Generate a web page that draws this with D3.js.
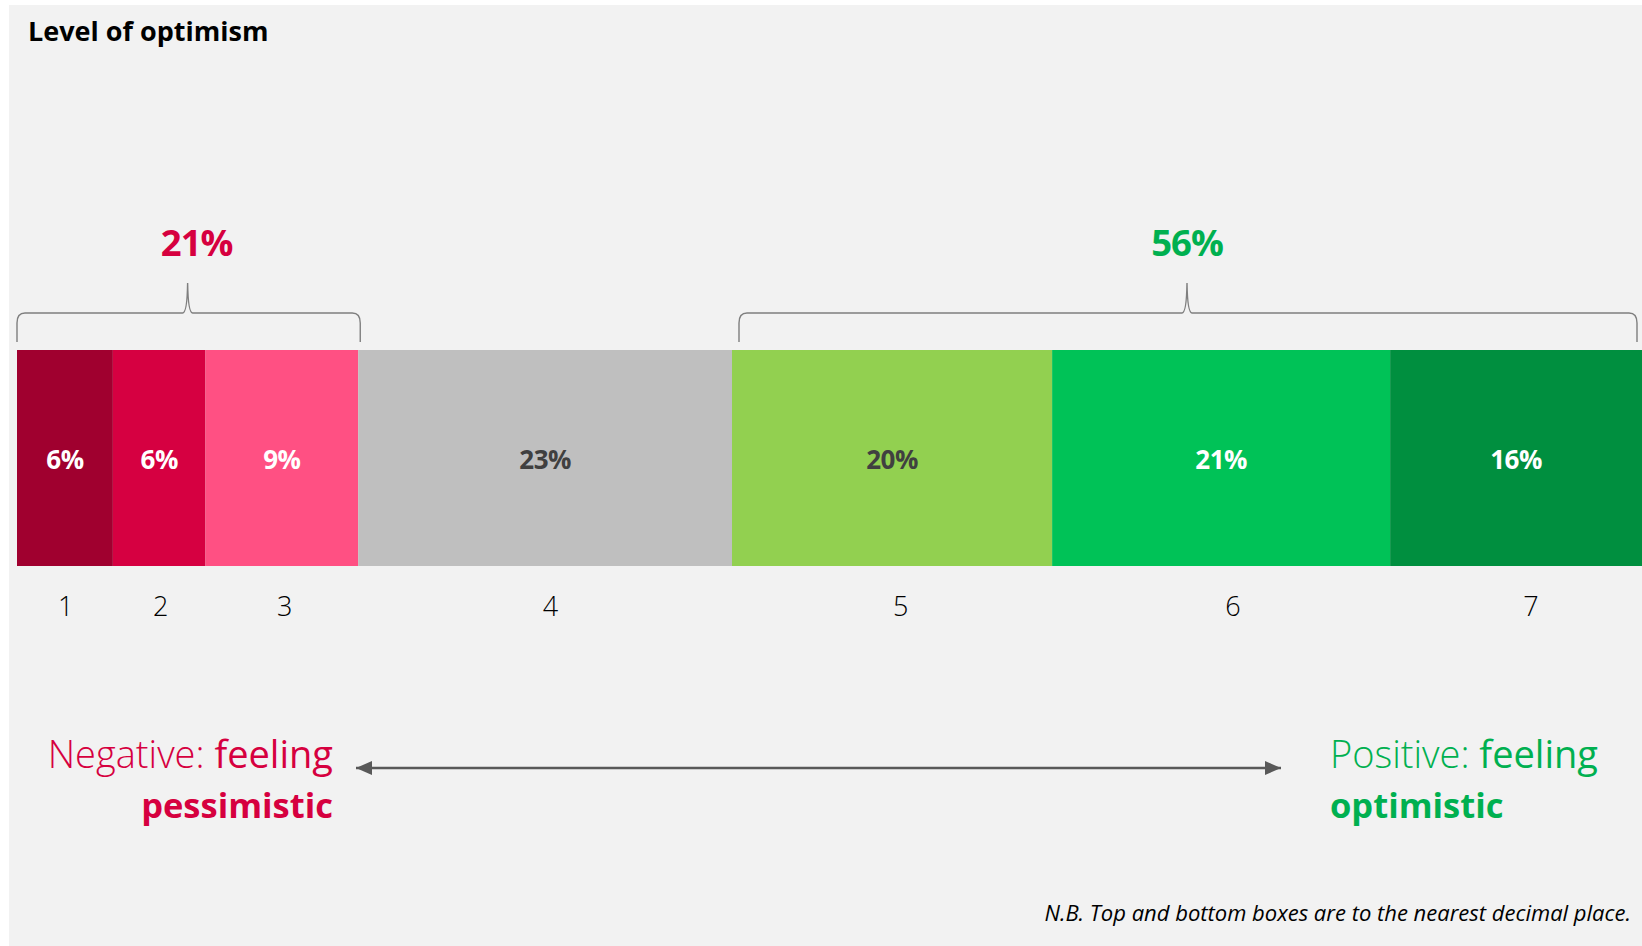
<!DOCTYPE html>
<html>
<head>
<meta charset="utf-8">
<script src="https://cdn.jsdelivr.net/npm/d3@7"></script>
<style>
  html, body { margin: 0; padding: 0; background: #ffffff; }
  svg { display: block; }
  text { font-family: "Open Sans", Lato, sans-serif; }
</style>
</head>
<body>
<div id="chart"></div>
<script>
// ---- data ----
const title = "Level of optimism";
const categories = ["1", "2", "3", "4", "5", "6", "7"];
const values = [5.9, 5.7, 9.4, 23.0, 19.7, 20.8, 15.5];
const segmentColors = ["#A0002F", "#D60041", "#FF5083", "#BFBFBF", "#92D050", "#00C257", "#008F3F"];
const labelColors = ["#FFFFFF", "#FFFFFF", "#FFFFFF", "#404040", "#404040", "#FFFFFF", "#FFFFFF"];
const groupRanges = [[0, 2], [4, 6]];        // category index ranges
const groupTotals = ["21%", "56%"];
const groupColors = ["#D6003F", "#00B050"];
const negativeText = ["Negative:", " feeling", "pessimistic"];
const positiveText = ["Positive:", " feeling", "optimistic"];
const footnote = "N.B. Top and bottom boxes are to the nearest decimal place.";

// ---- layout ----
const W = 1642, H = 946;
const svg = d3.select("#chart").append("svg").attr("width", W).attr("height", H);

svg.append("rect").attr("x", 9).attr("y", 5).attr("width", W - 9).attr("height", H - 5).attr("fill", "#F2F2F2");

svg.append("text").attr("x", 28).attr("y", 41)
  .attr("font-size", 27).attr("font-weight", 700).attr("fill", "#000")
  .text(title);

// stacked positions
let acc = 0;
const segs = values.map((v, i) => { const s = { i, cat: categories[i], v, x0: acc, x1: acc + v }; acc += v; return s; });

const x = d3.scaleLinear().domain([0, 100]).range([17, 1642]);
const xLab = d3.scaleLinear().domain([0, 100]).range([17.2, 1658]);
const barY = 350, barH = 216;

svg.append("g").selectAll("rect").data(segs).join("rect")
  .attr("x", d => x(d.x0)).attr("y", barY)
  .attr("width", d => x(d.x1) - x(d.x0)).attr("height", barH)
  .attr("fill", d => segmentColors[d.i]);

svg.append("g").selectAll("text").data(segs).join("text")
  .attr("x", d => x((d.x0 + d.x1) / 2)).attr("y", 469)
  .attr("text-anchor", "middle").attr("font-size", 26).attr("font-weight", 700)
  .attr("letter-spacing", -0.5)
  .attr("fill", d => labelColors[d.i])
  .text(d => Math.round(d.v) + "%");

svg.append("g").selectAll("text").data(segs).join("text")
  .attr("x", d => xLab((d.x0 + d.x1) / 2)).attr("y", 616)
  .attr("text-anchor", "middle").attr("font-size", 27).attr("font-weight", 300)
  .attr("fill", "#000")
  .text(d => d.cat);

// brackets
const brTop = 283, brLine = 313, brBot = 342;
groupRanges.forEach((r, gi) => {
  const xa = x(segs[r[0]].x0) + (gi === 0 ? 0 : 7);
  const xb = x(segs[r[1]].x1) - (gi === 0 ? -2 : 5);
  const xm = (x(segs[r[0]].x0) + x(segs[r[1]].x1)) / 2;
  const p = d3.path();
  p.moveTo(xa, brBot);
  p.lineTo(xa, brLine + 10);
  p.quadraticCurveTo(xa, brLine, xa + 8, brLine);
  p.lineTo(xm - 5, brLine);
  p.quadraticCurveTo(xm - 0.5, brLine, xm, brTop);
  p.quadraticCurveTo(xm + 0.5, brLine, xm + 5, brLine);
  p.lineTo(xb - 8, brLine);
  p.quadraticCurveTo(xb, brLine, xb, brLine + 10);
  p.lineTo(xb, brBot);
  svg.append("path").attr("d", p.toString()).attr("fill", "none")
    .attr("stroke", "#7F7F7F").attr("stroke-width", 1.4);
  svg.append("text").attr("x", xm + (gi === 0 ? 9 : 0)).attr("y", 256)
    .attr("text-anchor", "middle").attr("font-size", 36.5).attr("font-weight", 700)
    .attr("letter-spacing", -1)
    .attr("fill", groupColors[gi]).text(groupTotals[gi]);
});

// arrow
const defs = svg.append("defs");
["start", "end"].forEach(k => {
  defs.append("marker").attr("id", "ah-" + k)
    .attr("viewBox", "0 0 16 14").attr("refX", k === "end" ? 16 : 0).attr("refY", 7)
    .attr("markerWidth", 16).attr("markerHeight", 14).attr("markerUnits", "userSpaceOnUse")
    .attr("orient", "auto")
    .append("path").attr("d", k === "end" ? "M0,0 L16,7 L0,14 Z" : "M16,0 L0,7 L16,14 Z")
    .attr("fill", "#595959");
});
svg.append("line").attr("x1", 356).attr("x2", 1281).attr("y1", 768).attr("y2", 768)
  .attr("stroke", "#595959").attr("stroke-width", 2.6)
  .attr("marker-start", "url(#ah-start)").attr("marker-end", "url(#ah-end)");

function sideLabel(parts, xPos, anchor, color) {
  const t1 = svg.append("text").attr("x", xPos).attr("y", 768)
    .attr("text-anchor", anchor).attr("font-size", 38).attr("fill", color);
  t1.append("tspan").attr("font-weight", 300).text(parts[0]);
  t1.append("tspan").attr("font-weight", 400).text(parts[1]);
  svg.append("text").attr("x", xPos).attr("y", 818)
    .attr("text-anchor", anchor).attr("font-size", 34.5).attr("font-weight", 700)
    .attr("fill", color).text(parts[2]);
}
sideLabel(negativeText, 333, "end", "#D6003F");
sideLabel(positiveText, 1330, "start", "#00B050");

svg.append("text").attr("x", 1631).attr("y", 921)
  .attr("text-anchor", "end").attr("font-size", 22).attr("font-style", "italic")
  .attr("fill", "#000").text(footnote);
</script>
</body>
</html>
